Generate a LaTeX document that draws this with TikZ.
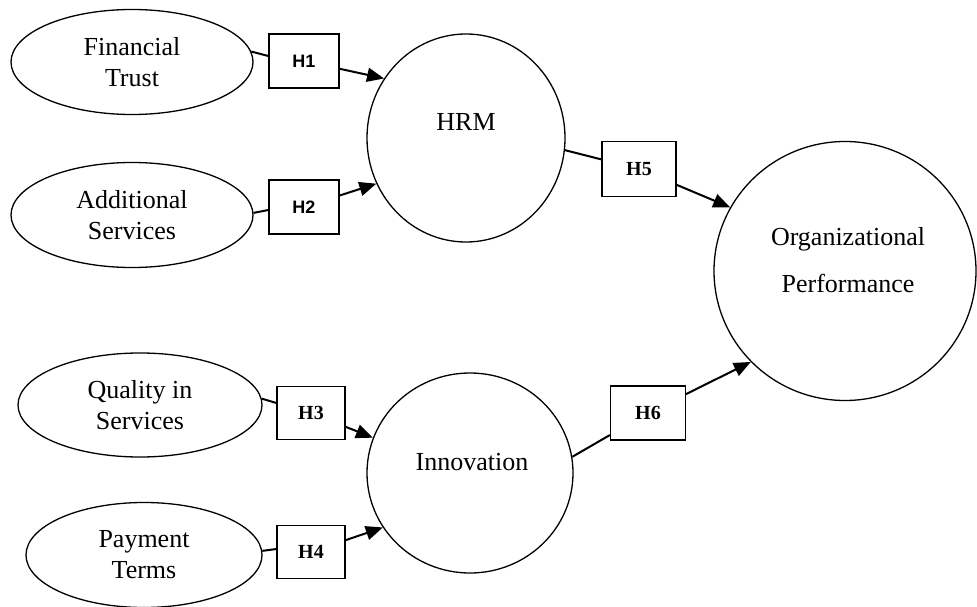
\documentclass[tikz,border=0pt]{standalone}
\usepackage{fontspec}
\setmainfont{Liberation Serif}
\newfontfamily\hsans{Liberation Sans}
\usetikzlibrary{shapes.geometric,arrows.meta}

\begin{document}
\begin{tikzpicture}[x=1pt, y=-1pt,
    factor/.style={draw, ellipse, line width=1.3pt, inner sep=0pt, align=center,
                   font=\fontsize{26}{31}\selectfont},
    latent/.style={draw, ellipse, line width=1.3pt, inner sep=0pt},
    hyp/.style={draw, rectangle, line width=1.3pt, minimum width=70pt, minimum height=54pt,
                inner sep=0pt, font=\fontsize{20}{24}\selectfont\bfseries},
    tie/.style={line width=2pt},
    effect/.style={line width=2pt, -{Triangle[length=17pt,width=14pt]}}]
    \useasboundingbox (0,0) rectangle (977,607);
    % antecedents
    \node[factor, minimum width=242pt, minimum height=105pt] (ft) at (132,62) {Financial\\Trust};
    \node[factor, minimum width=242pt, minimum height=105pt] (as) at (132,215) {Additional\\Services};
    \node[factor, minimum width=244pt, minimum height=104pt] (qs) at (140,405) {Quality in\\Services};
    \node[factor, minimum width=236pt, minimum height=105pt] (pt) at (144,555) {Payment\\Terms};
    % mediators and outcome
    \node[latent, minimum width=198pt, minimum height=208pt,
          label={[font=\fontsize{26}{31}\selectfont, yshift=16pt]center:HRM}] (hrm) at (466,138) {};
    \node[latent, minimum width=206pt, minimum height=200pt,
          label={[font=\fontsize{26}{31}\selectfont, yshift=11pt, xshift=2pt]center:Innovation}] (inn) at (470,473) {};
    \node[latent, minimum width=262pt, minimum height=259pt,
          label={[font=\fontsize{26}{47}\selectfont, align=center, yshift=11pt, xshift=3pt]center:Organizational\\Performance}] (op) at (845,271) {};
    % hypotheses
    \node[hyp, font=\fontsize{18}{22}\selectfont\hsans\bfseries] (h1) at (304,61) {H1};
    \node[hyp, font=\fontsize{18}{22}\selectfont\hsans\bfseries] (h2) at (304,207) {H2};
    \node[hyp, minimum width=68pt, minimum height=53pt] (h3) at (311,413) {H3};
    \node[hyp, minimum width=68pt, minimum height=53pt] (h4) at (311,552) {H4};
    \node[hyp, minimum width=74pt, minimum height=55pt] (h5) at (639,169) {H5};
    \node[hyp, minimum width=75pt, minimum height=54pt] (h6) at (648,413) {H6};
    % paths
    \draw[tie] (ft.5) -- ([yshift=5pt]h1.west);
    \draw[effect] (h1) -- (hrm.144);
    \draw[tie] (as.1) -- ([yshift=-3pt]h2.west);
    \draw[effect] (h2) -- (hrm.207);
    \draw[tie] (qs.3) -- ([yshift=10pt]h3.west);
    \draw[effect] (h3) -- (inn.160);
    \draw[tie] (pt.2) -- ([yshift=3pt]h4.west);
    \draw[effect] (h4) -- (inn.212);
    \draw[tie] (hrm.-7) -- (h5);
    \draw[effect] (h5) -- (op.151);
    \draw[tie] (inn.9) -- (h6);
    \draw[effect] (h6) -- (op.224);
\end{tikzpicture}
\end{document}
